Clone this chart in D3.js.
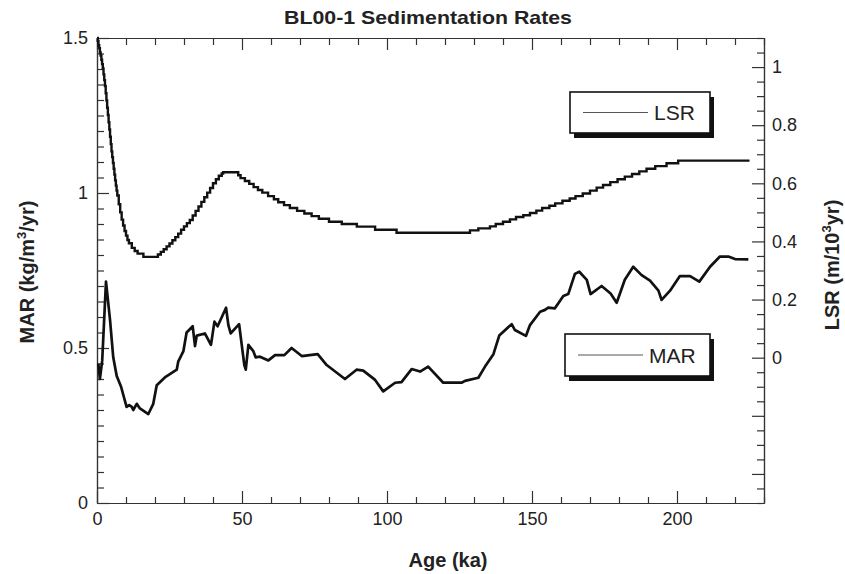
<!DOCTYPE html>
<html>
<head>
<meta charset="utf-8">
<script src="https://cdn.jsdelivr.net/npm/d3@7"></script>
<style>
  body { margin: 0; background: #fff; }
  svg { display: block; font-family: "Liberation Sans", Arial, sans-serif; }
</style>
</head>
<body>
<div id="chart"></div>
<script>
// MAR (kg/m3/yr) against age (ka)
const marAge = [0.45, 1.0, 1.8, 3.1, 4.5, 5.6, 6.8, 8.3, 10.2, 11.1, 12.0, 12.5, 13.7, 14.8, 17.7, 19.4,
  20.6, 23.4, 27.5, 28.0, 29.8, 30.9, 33.0, 33.8, 34.4, 37.2, 39.3, 40.5, 41.6, 44.5, 45.3, 46.1, 49.0,
  50.8, 51.3, 52.2, 53.9, 54.7, 56.2, 59.1, 61.4, 64.6, 67.1, 70.6, 76.1, 79.2, 85.5, 89.5, 91.8, 95.9,
  98.7, 102.8, 105.0, 108.5, 111.4, 114.2, 119.4, 125.7, 126.9, 131.5, 133.8, 136.7, 138.7, 143.0, 144.1,
  147.9, 149.3, 152.8, 154.5, 155.6, 157.9, 160.8, 162.5, 164.8, 166.3, 168.9, 170.2, 174.0, 177.1, 179.2,
  182.0, 184.9, 187.8, 190.7, 193.6, 194.7, 197.6, 201.0, 204.5, 207.7, 211.4, 214.8, 217.7, 220.0, 224.6];
const marValue = [0.45, 0.40, 0.46, 0.714, 0.59, 0.47, 0.41, 0.375, 0.31, 0.316, 0.31, 0.30, 0.32, 0.305, 0.287, 0.32,
  0.38, 0.405, 0.43, 0.456, 0.49, 0.55, 0.57, 0.506, 0.54, 0.547, 0.51, 0.585, 0.57, 0.63, 0.574, 0.547, 0.577,
  0.445, 0.43, 0.51, 0.49, 0.47, 0.472, 0.46, 0.477, 0.477, 0.50, 0.474, 0.48, 0.445, 0.40, 0.43, 0.427, 0.397,
  0.36, 0.388, 0.39, 0.432, 0.424, 0.44, 0.388, 0.388, 0.394, 0.404, 0.44, 0.48, 0.54, 0.577, 0.558,
  0.539, 0.574, 0.617, 0.623, 0.63, 0.628, 0.668, 0.674, 0.739, 0.746, 0.72, 0.674, 0.70, 0.676, 0.646,
  0.72, 0.762, 0.735, 0.717, 0.685, 0.655, 0.685, 0.732, 0.732, 0.714, 0.762, 0.795, 0.795, 0.787, 0.786];

// LSR (m/10^3 yr), stepped
const lsrAge = [0, 0.25, 0.5, 0.75, 1, 1.25, 1.5, 1.75, 2, 2.25, 2.5, 2.75, 3, 3.25, 3.5, 3.75, 4, 4.25, 4.5, 4.75,
  5, 5.25, 5.5, 5.75, 6, 6.25, 6.5, 6.75, 7, 7.5, 8, 8.5, 9, 9.5, 10, 10.5, 11, 12, 13, 14, 16,
  20, 21, 22, 23, 24, 25, 26, 27, 28, 29, 30, 31, 32, 33, 34, 35, 36, 37, 38, 39, 40, 41, 42, 43, 43.5,
  48.7, 49.5, 51, 52.5, 54, 55.5, 57, 59, 61, 62.5, 64.5, 66.5, 69, 71.5, 74, 76.5, 80, 84.4, 89.6, 95.9,
  103.3, 128.6, 131.5, 135.5, 137.5, 140, 142.4, 144.5, 147, 149.3, 151.5, 153.5, 156, 158, 160.5, 163,
  165, 167.5, 170, 172.3, 174.5, 177, 179.5, 182, 184.5, 187, 189.5, 192.5, 196.4, 200.4, 225];
const lsrValue = [1.10, 1.09, 1.075, 1.065, 1.05, 1.04, 1.025, 1.01, 0.995, 0.975, 0.955, 0.935, 0.91, 0.885, 0.86, 0.835,
  0.81, 0.785, 0.76, 0.735, 0.71, 0.69, 0.67, 0.65, 0.63, 0.61, 0.592, 0.575, 0.558, 0.528, 0.50, 0.475, 0.455, 0.436, 0.42, 0.405, 0.394, 0.378, 0.367, 0.358, 0.347,
  0.347, 0.355, 0.364, 0.373, 0.383, 0.393, 0.404, 0.415, 0.427, 0.44, 0.452, 0.463, 0.474, 0.489, 0.505, 0.52, 0.536, 0.552, 0.568, 0.584, 0.60, 0.614, 0.626, 0.634, 0.638,
  0.628, 0.618, 0.608, 0.598, 0.587, 0.577, 0.568, 0.556, 0.545, 0.535, 0.525, 0.515, 0.505, 0.496, 0.487, 0.478, 0.468, 0.46, 0.451, 0.44,
  0.43, 0.438, 0.445, 0.452, 0.46, 0.468, 0.476, 0.484, 0.49, 0.498, 0.506, 0.515, 0.523, 0.531, 0.54, 0.548,
  0.556, 0.565, 0.575, 0.585, 0.594, 0.604, 0.614, 0.623, 0.632, 0.641, 0.65, 0.659, 0.669, 0.678, 0.678];

const xTicks = [0, 50, 100, 150, 200];
const marTicks = [0, 0.5, 1, 1.5];
const lsrTicks = [0, 0.2, 0.4, 0.6, 0.8, 1];

const W = 845, H = 574;
const margin = { top: 38, right: 81, bottom: 71, left: 97 };
const width = W - margin.left - margin.right;
const height = H - margin.top - margin.bottom;

const svg = d3.select("#chart").append("svg")
  .attr("width", W).attr("height", H);

const g = svg.append("g")
  .attr("transform", `translate(${margin.left},${margin.top})`);

const x = d3.scaleLinear().domain([0, 230]).range([0, width]);
const yMar = d3.scaleLinear().domain([0, 1.5]).range([height, 0]);
const yLsr = d3.scaleLinear().domain([-0.5, 1.1]).range([height, 0]);

const axisColor = "#333";
function styleAxis(sel) {
  sel.selectAll("path.domain").attr("stroke", axisColor).attr("stroke-width", 1.2);
  sel.selectAll(".tick line").attr("stroke", axisColor).attr("stroke-width", 1.2);
  sel.selectAll(".tick text").attr("fill", "#222").style("font-size", "18px")
    .style("font-family", "'Liberation Sans', Arial, sans-serif");
}

// minor ticks
const minorX = d3.range(0, 231, 10).filter(v => v % 50 !== 0);
const minorMar = d3.range(0, 31).map(i => i * 0.05).filter(v => Math.abs(v * 2 - Math.round(v * 2)) > 1e-6);
const minorLsr = d3.range(-10, 23).map(i => i * 0.05).filter(v => Math.abs(v * 5 - Math.round(v * 5)) > 1e-6);
const majorLsr = [-0.4, -0.2, 0, 0.2, 0.4, 0.6, 0.8, 1];

// bottom
g.append("g").attr("transform", `translate(0,${height})`)
  .call(d3.axisBottom(x).tickValues(minorX).tickSizeInner(-6).tickSizeOuter(0).tickFormat(""))
  .call(styleAxis);
g.append("g").attr("transform", `translate(0,${height})`)
  .call(d3.axisBottom(x).tickValues(xTicks).tickSizeInner(-12).tickSizeOuter(0).tickPadding(9).tickFormat(d3.format("d")))
  .call(styleAxis);
// top
g.append("g")
  .call(d3.axisTop(x).tickValues(minorX).tickSizeInner(-7).tickSizeOuter(0).tickFormat(""))
  .call(styleAxis);
g.append("g")
  .call(d3.axisTop(x).tickValues(xTicks).tickSizeInner(-12).tickSizeOuter(0).tickFormat(""))
  .call(styleAxis);
// left
g.append("g")
  .call(d3.axisLeft(yMar).tickValues(minorMar).tickSizeInner(-7).tickSizeOuter(0).tickFormat(""))
  .call(styleAxis);
g.append("g")
  .call(d3.axisLeft(yMar).tickValues(marTicks).tickSizeInner(-12).tickSizeOuter(0).tickPadding(9).tickFormat(d => d3.format("")(d)))
  .call(styleAxis);
// right
g.append("g").attr("transform", `translate(${width},0)`)
  .call(d3.axisRight(yLsr).tickValues(minorLsr).tickSizeInner(-7).tickSizeOuter(0).tickFormat(""))
  .call(styleAxis);
g.append("g").attr("transform", `translate(${width},0)`)
  .call(d3.axisRight(yLsr).tickValues(majorLsr).tickSizeInner(-12).tickSizeOuter(0).tickPadding(8)
    .tickFormat(d => lsrTicks.includes(+d.toFixed(1)) && d >= 0 ? d3.format("")(+d.toFixed(1)) : ""))
  .call(styleAxis);

// curves
const marData = marAge.map((a, i) => ({ age: a, v: marValue[i] }));
const lsrData = lsrAge.map((a, i) => ({ age: a, v: lsrValue[i] }));

g.append("path").datum(lsrData)
  .attr("fill", "none").attr("stroke", "#111").attr("stroke-width", 2.4)
  .attr("d", d3.line().x(d => x(d.age)).y(d => yLsr(d.v)).curve(d3.curveStepAfter));

g.append("path").datum(marData)
  .attr("fill", "none").attr("stroke", "#111").attr("stroke-width", 2.7).attr("stroke-linejoin", "round")
  .attr("d", d3.line().x(d => x(d.age)).y(d => yMar(d.v)));

// legends (boxes with drop shadow)
function legend(x0, y0, w, h, label) {
  const lg = svg.append("g").attr("transform", `translate(${x0},${y0})`);
  lg.append("rect").attr("x", 4).attr("y", 5).attr("width", w).attr("height", h).attr("fill", "#111");
  lg.append("rect").attr("width", w).attr("height", h).attr("fill", "#fff")
    .attr("stroke", "#111").attr("stroke-width", 1.6);
  lg.append("line").attr("x1", 13).attr("x2", 78).attr("y1", h / 2).attr("y2", h / 2)
    .attr("stroke", "#555").attr("stroke-width", 1.2);
  lg.append("text").attr("x", 84).attr("y", h / 2 + 7.5).text(label)
    .attr("fill", "#222").style("font-size", "21px");
}
legend(570, 92, 140, 41, "LSR");
legend(565, 334, 145, 42, "MAR");

// titles
svg.append("text").attr("x", 428).attr("y", 24).attr("text-anchor", "middle")
  .style("font-weight", "bold").style("font-size", "19px").attr("fill", "#222")
  .attr("textLength", 288).attr("lengthAdjust", "spacingAndGlyphs")
  .text("BL00-1 Sedimentation Rates");

svg.append("text").attr("x", 448).attr("y", 567).attr("text-anchor", "middle")
  .style("font-weight", "bold").style("font-size", "20px").attr("fill", "#222")
  .text("Age (ka)");

const yl = svg.append("text").attr("transform", "translate(34,272) rotate(-90)")
  .attr("text-anchor", "middle").style("font-weight", "bold").style("font-size", "20px").attr("fill", "#222");
yl.append("tspan").text("MAR (kg/m");
yl.append("tspan").attr("dy", -8).style("font-size", "13px").text("3");
yl.append("tspan").attr("dy", 8).text("/yr)");

const yr = svg.append("text").attr("transform", "translate(839,265) rotate(-90)")
  .attr("text-anchor", "middle").style("font-weight", "bold").style("font-size", "20px").attr("fill", "#222");
yr.append("tspan").text("LSR (m/10");
yr.append("tspan").attr("dy", -8).style("font-size", "13px").text("3");
yr.append("tspan").attr("dy", 8).text("yr)");
</script>
</body>
</html>
